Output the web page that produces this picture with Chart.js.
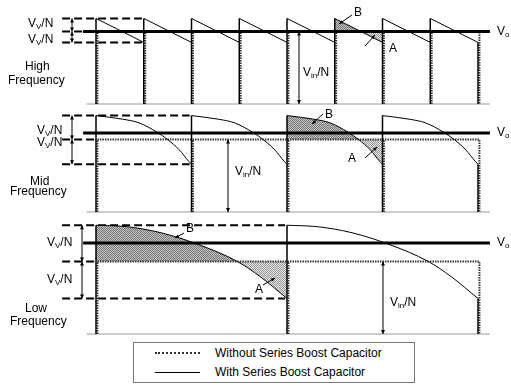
<!DOCTYPE html>
<html lang="en">
<head>
<meta charset="UTF-8">
<title>Series boost capacitor waveforms</title>
<script src="https://cdn.jsdelivr.net/npm/chart.js@4.4.6/dist/chart.umd.min.js"></script>
<style>
  html, body { margin: 0; padding: 0; background: #fff; }
  body { width: 511px; height: 386px; position: relative; overflow: hidden;
         font-family: "Liberation Sans", Arial, sans-serif; color: #000; }
  #chart { position: absolute; left: 0; top: 0; }
  .legend { position: absolute; left: 133px; top: 342px; width: 282px; height: 41px;
            border: 1px solid #777; box-sizing: border-box; background: #fff; }
  .row { position: absolute; left: 0; height: 14px; display: flex; align-items: center; font-size: 12px; white-space: nowrap; }
  .swatch { width: 45px; height: 0; margin-left: 21px; margin-right: 15px; }
  .dotted { border-top: 2px dotted #333; }
  .solid  { border-top: 1px solid #000; }
</style>
</head>
<body>
<canvas id="chart" width="511" height="386"></canvas>
<div class="legend">
  <div class="row" style="top:3px"><div class="swatch dotted"></div>Without Series Boost Capacitor</div>
  <div class="row" style="top:22px"><div class="swatch solid"></div>With Series Boost Capacitor</div>
</div>
<script>
// x = time (one unit = high-frequency half period), y = volts in units of Vin/N

// switching edges of each panel
const highEdges = [0, 1, 2, 3, 4, 5, 6, 7, 8];
const midEdges  = [0, 2, 4, 6, 8];
const lowEdges  = [0, 4, 8];

// one pulse of the "with series boost capacitor" waveform (u = fraction of pulse)
const highPulseU = [0, 1];
const highPulseV = [1.18, 0.85];
const midPulseU  = [0, 0.28, 0.45, 0.64, 0.75, 0.87, 0.97, 1];
const midPulseV  = [1.33, 1.28, 1.23, 1.10, 1.00, 0.86, 0.70, 0.66];
const lowPulseU  = [0, 0.16, 0.335, 0.53, 0.74, 0.86, 1];
const lowPulseV  = [1.50, 1.48, 1.40, 1.24, 1.00, 0.79, 0.49];

const vinLevel = 1;                    // without series boost capacitor
const voLevels = [1.0, 1.09, 1.255];   // high, mid, low
const shadedPulse = [5, 2, 0];         // pulse carrying areas A and B
const panelNames = ['High', 'Mid', 'Low'];

// ── layout (pixel geometry of the drawing) ───────────────────────────────────
const PX_T = 47.75, T0 = 96, PX_V = 72.5, H = 386, W = 511;
const baselinesPx = [104, 212, 334];
const axisIds = ['yH', 'yM', 'yL'];

const panels = [
  { id: 'yH', edges: highEdges, u: highPulseU, v: highPulseV },
  { id: 'yM', edges: midEdges,  u: midPulseU,  v: midPulseV },
  { id: 'yL', edges: lowEdges,  u: lowPulseU,  v: lowPulseV },
];

function stipple(dark, light) {
  const c = document.createElement('canvas');
  c.width = 4; c.height = 4;
  const g = c.getContext('2d');
  g.fillStyle = light; g.fillRect(0, 0, 4, 4);
  g.fillStyle = dark;
  [[0,0],[2,0],[1,1],[3,1],[0,2],[2,2],[1,3],[3,3]].forEach(([x, y]) => g.fillRect(x, y, 1, 1));
  return g.createPattern(c, 'repeat');
}
const patB = stipple('#777', '#c4c4c4');
const patA = stipple('#9a9a9a', '#e4e4e4');

// ── datasets ─────────────────────────────────────────────────────────────────
const datasets = [];
const add = d => datasets.push(Object.assign({
  pointRadius: 0, pointHoverRadius: 0, fill: false, tension: 0,
  borderColor: '#000', borderWidth: 1
}, d));

const DOT = 0.03;   // dotted trace sits just right of the solid one
const layers = { base: [], dash: [], fill: [], dot: [], vo: [], vert: [], curve: [] };

panels.forEach((p, i) => {
  const e = p.edges, n = e.length - 1;
  const top = p.v[0], bottom = p.v[p.v.length - 1];
  const yAxisID = p.id;

  layers.base.push({ yAxisID, data: [{x: -0.2, y: 0}, {x: 8.25, y: 0}], borderColor: '#9a9a9a', borderWidth: 1 });

  const dashEnd = e[1] - 0.04;
  layers.dash.push({ yAxisID, borderWidth: 2, borderDash: [8, 4],
    data: [{x: -0.71, y: top}, {x: dashEnd, y: top}, {x: dashEnd, y: null},
           {x: -0.71, y: vinLevel}, {x: 0, y: vinLevel}, {x: 0, y: null},
           {x: -0.71, y: bottom}, {x: dashEnd, y: bottom}] });

  const pulse = k => p.u.map((uu, j) => ({ x: e[k] + uu * (e[k + 1] - e[k]), y: p.v[j] }));

  layers.fill.push({ yAxisID, borderWidth: 0, cubicInterpolationMode: 'monotone',
    data: pulse(shadedPulse[i]),
    fill: { target: { value: vinLevel }, above: patB, below: patA } });

  const dots = [{x: e[0] + DOT, y: 0}, {x: e[0] + DOT, y: vinLevel},
                {x: e[n] + DOT, y: vinLevel}, {x: e[n] + DOT, y: 0}, {x: e[n] + DOT, y: null}];
  for (let k = 1; k < n; k++) dots.push({x: e[k] + DOT, y: 0}, {x: e[k] + DOT, y: vinLevel}, {x: e[k] + DOT, y: null});
  layers.dot.push({ yAxisID, data: dots, borderColor: '#333', borderWidth: 2, borderDash: [1.5, 1] });

  layers.vo.push({ yAxisID, data: [{x: -0.27, y: voLevels[i]}, {x: 8.25, y: voLevels[i]}], borderWidth: 3.2 });

  const verts = [];
  for (let k = 0; k < n; k++) verts.push({x: e[k], y: 0}, {x: e[k], y: top}, {x: e[k], y: null});
  verts.push({x: e[n], y: bottom}, {x: e[n], y: 0});
  layers.vert.push({ yAxisID, data: verts, borderWidth: 1.5 });

  const curves = [];
  for (let k = 0; k < n; k++) curves.push(...pulse(k), {x: e[k + 1], y: null});
  layers.curve.push({ yAxisID, data: curves, borderWidth: 1, cubicInterpolationMode: 'monotone' });
});

Object.values(layers).forEach(list => list.forEach(add));
datasets.forEach((d, i) => { d.order = 1000 - i; });

// ── annotations (text and arrows) ────────────────────────────────────────────
const tAt = px => (px - T0) / PX_T;
const vAt = (i, py) => (baselinesPx[i] - py) / PX_V;

const texts = [];     // {i, px, py, parts, align}
const VV = [['V', 12, 0], ['V', 8, 3], ['/N', 12, 0]];
const VIN = [['V', 12, 0], ['in', 8, 3], ['/N', 12, 0]];
const VO = [['V', 12, 0], ['o', 8, 3]];
const T = s => [[s, 12, 0]];

const leftVV = [[28, 24, 40], [37, 131, 143], [47, 243, 280]];
const nameRows = [[25, 67, 8, 81], [30, 182, 10, 192], [25, 309, 10, 322]];
const vinLabel = [[303, 73], [235, 172], [390, 303]];
const labB = [[358, 13], [329, 115], [190, 229]];
const labA = [[393, 49], [352, 159], [259, 290]];
const leadB = [[352, 15, 339, 24], [323, 114, 312, 124], [184, 233, 175, 238]];
const leadA = [[365, 46, 375, 35], [365, 158, 377, 147], [263, 285, 275, 278]];
const leftArrowX = [72, 72, 82];
const vinArrowX = [299, 228, 383];

const annot = {
  id: 'annot',
  afterDatasetsDraw(chart) {
    const ctx = chart.ctx, xs = chart.scales.x;
    const X = t => xs.getPixelForValue(t);
    ctx.save();
    ctx.fillStyle = '#000'; ctx.strokeStyle = '#000'; ctx.lineWidth = 1;

    const head = (x0, y0, x1, y1, len = 4, w = 2) => {
      const a = Math.atan2(y1 - y0, x1 - x0), c = Math.cos(a), s = Math.sin(a);
      ctx.beginPath();
      ctx.moveTo(x1, y1);
      ctx.lineTo(x1 - len * c + w * s, y1 - len * s - w * c);
      ctx.lineTo(x1 - len * c - w * s, y1 - len * s + w * c);
      ctx.closePath(); ctx.fill();
    };
    const line = (x0, y0, x1, y1) => { ctx.beginPath(); ctx.moveTo(x0, y0); ctx.lineTo(x1, y1); ctx.stroke(); };
    const dbl = (x, y0, y1) => { line(x, y0, x, y1); head(x, y1, x, y0); head(x, y0, x, y1); };
    const write = (x, y, parts, align) => {
      let w = 0;
      parts.forEach(([s, f]) => { ctx.font = f + 'px "Liberation Sans", Arial, sans-serif'; w += ctx.measureText(s).width; });
      let cx = align === 'center' ? x - w / 2 : x;
      ctx.textBaseline = 'middle'; ctx.textAlign = 'left';
      parts.forEach(([s, f, dy]) => {
        ctx.font = f + 'px "Liberation Sans", Arial, sans-serif';
        ctx.fillText(s, cx, y + dy);
        cx += ctx.measureText(s).width;
      });
    };

    panels.forEach((p, i) => {
      const ys = chart.scales[p.id];
      const Y = v => ys.getPixelForValue(v);
      const py = py0 => Y(vAt(i, py0));
      const top = p.v[0], bottom = p.v[p.v.length - 1];

      // ripple arrows at left and Vin/N arrow
      const ax = X(tAt(leftArrowX[i]));
      dbl(ax, Y(top), Y(vinLevel));
      dbl(ax, Y(vinLevel), Y(bottom));
      dbl(X(tAt(vinArrowX[i])), Y(vinLevel), Y(0));

      const [lx, uy, ly] = leftVV[i];
      write(X(tAt(lx)), py(uy), VV, 'left');
      write(X(tAt(lx)), py(ly), VV, 'left');

      const [nx, ny, fx, fy] = nameRows[i];
      write(X(tAt(nx)), py(ny), T(panelNames[i]), 'left');
      write(X(tAt(fx)), py(fy), T('Frequency'), 'left');

      write(X(tAt(497)), Y(voLevels[i]), VO, 'left');
      write(X(tAt(vinLabel[i][0])), py(vinLabel[i][1]), VIN, 'left');

      write(X(tAt(labB[i][0])), py(labB[i][1]), T('B'), 'center');
      write(X(tAt(labA[i][0])), py(labA[i][1]), T('A'), 'center');
      [leadB[i], leadA[i]].forEach(([x0, y0, x1, y1]) => {
        const a = [X(tAt(x0)), py(y0)], b = [X(tAt(x1)), py(y1)];
        line(a[0], a[1], b[0], b[1]);
        head(a[0], a[1], b[0], b[1], 4, 1.8);
      });
    });
    ctx.restore();
  }
};

// ── scales: every panel shares the same volts-per-pixel ─────────────────────
const scales = {
  x: { type: 'linear', display: false, min: -T0 / PX_T, max: (W - T0) / PX_T }
};
axisIds.forEach((id, i) => {
  const max = baselinesPx[i] / PX_V;
  scales[id] = { type: 'linear', display: false, min: max - H / PX_V, max };
});

new Chart(document.getElementById('chart'), {
  type: 'line',
  data: { datasets },
  options: {
    responsive: false,
    devicePixelRatio: 1,
    animation: false,
    events: [],
    layout: { padding: 0 },
    scales,
    plugins: { legend: { display: false }, tooltip: { enabled: false } },
  },
  plugins: [annot],
});
</script>
</body>
</html>
